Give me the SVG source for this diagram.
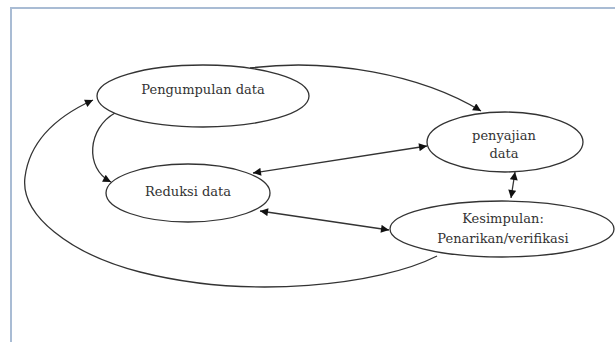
<svg xmlns="http://www.w3.org/2000/svg" width="615" height="342" viewBox="0 0 615 342">
<defs>
<marker id="ah" viewBox="0 0 10 10" refX="10" refY="5" markerWidth="9" markerHeight="8" markerUnits="userSpaceOnUse" orient="auto-start-reverse">
<path d="M0,0 L10,5 L0,10 z" fill="#111"/>
</marker>
</defs>
<style>
.node ellipse{fill:#fff;stroke:#333;stroke-width:1.3}
.node text{font-family:'DejaVu Serif','Liberation Serif',serif;font-size:13px;fill:#333;text-anchor:middle}
.conn path{fill:none;stroke:#333;stroke-width:1.3}
.frame{stroke:#a9bcd4;stroke-width:2;fill:none}
</style>
<rect width="615" height="342" fill="#fff"/>
<path class="frame" d="M11,342 L11,8 L615,8"/>
<g id="connectors" class="conn">
<path d="M250,68 C330,58 420,74 481,111" marker-end="url(#ah)"/>
<path d="M115,113 C88,128 84,168 111,182" marker-end="url(#ah)"/>
<path d="M253,173 L427,146" marker-start="url(#ah)" marker-end="url(#ah)"/>
<path d="M260,211 L389,230" marker-start="url(#ah)" marker-end="url(#ah)"/>
<path d="M515,172 L511,198" marker-start="url(#ah)" marker-end="url(#ah)"/>
<path d="M437,256 C380,285 250,300 140,272 C70,254 20,215 25,177 C30,138 60,115 93,100" marker-end="url(#ah)"/>
</g>
<g id="pengumpulan" class="node">
<ellipse cx="203" cy="96" rx="106" ry="31"/>
<text x="203" y="94">Pengumpulan data</text>
</g>
<g id="penyajian" class="node">
<ellipse cx="505" cy="142" rx="78" ry="30"/>
<text x="504" y="140">penyajian</text>
<text x="504" y="158">data</text>
</g>
<g id="reduksi" class="node">
<ellipse cx="188" cy="193" rx="82" ry="29"/>
<text x="188" y="196">Reduksi data</text>
</g>
<g id="kesimpulan" class="node">
<ellipse cx="502" cy="229" rx="112" ry="28"/>
<text x="503" y="223">Kesimpulan:</text>
<text x="503" y="243">Penarikan/verifikasi</text>
</g>
</svg>
